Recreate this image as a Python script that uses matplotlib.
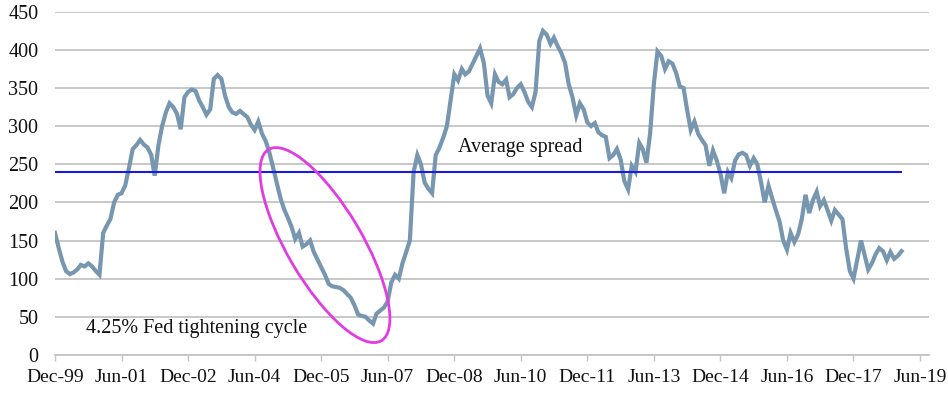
"""
Spread chart with average line and Fed tightening cycle highlight
"""

import matplotlib
matplotlib.use('Agg')
import matplotlib.pyplot as plt
import matplotlib.dates as mdates
from matplotlib.patches import Ellipse
from matplotlib.transforms import ScaledTranslation
import pandas as pd

# monthly spread values, Dec-99 onwards (bp)
spread = [
    160, 140, 122, 110, 106, 108, 112, 118, 116, 120, 116, 110,
    105, 160, 170, 178, 200, 210, 212, 222, 245, 270, 275, 282,
    276, 272, 262, 235, 275, 300, 318, 330, 325, 316, 296, 338,
    345, 348, 346, 334, 325, 315, 322, 362, 367, 362, 340, 325,
    318, 316, 320, 316, 312, 302, 295, 306, 290, 280, 265, 245,
    225, 205, 190, 180, 168, 152, 160, 142, 145, 150, 135, 125,
    115, 105, 93, 90, 89, 88, 85, 80, 75, 65, 53, 51,
    50, 45, 41, 54, 58, 62, 70, 95, 105, 100, 120, 135,
    150, 240, 262, 250, 226, 218, 212, 262, 272, 285, 300, 335,
    368, 360, 375, 368, 372, 382, 392, 402, 383, 340, 330, 368,
    358, 355, 361, 338, 342, 350, 355, 345, 332, 325, 345, 412,
    425, 420, 408, 416, 405, 396, 383, 355, 338, 314, 330, 322,
    305, 300, 304, 292, 288, 286, 258, 262, 270, 256, 228, 217,
    248, 240, 278, 270, 252, 290, 355, 398, 392, 375, 385, 382,
    370, 352, 350, 322, 295, 306, 290, 282, 275, 248, 268, 255,
    238, 212, 240, 232, 255, 263, 265, 262, 248, 258, 250, 226,
    200, 222, 205, 190, 175, 150, 138, 160, 148, 158, 178, 210,
    186, 203, 214, 195, 203, 190, 176, 190, 184, 178, 140, 110,
    100, 125, 150, 132, 112, 120, 132, 140, 136, 124, 135, 126,
    130, 136,
]
avg_spread = 240
tick_dates = pd.date_range('1999-12-01', '2019-06-01', freq='18MS')
tick_labels = [d.strftime('%b-%y') for d in tick_dates]
y_ticks = [0, 50, 100, 150, 200, 250, 300, 350, 400, 450]

dates = pd.date_range('1999-12-01', periods=len(spread), freq='MS')

plt.rcParams['font.family'] = ['Liberation Serif', 'DejaVu Serif']

fig = plt.figure(figsize=(9.48, 3.93), dpi=100)
ax = fig.add_axes([0.058, 0.097, 0.922, 0.873])

ax.plot(dates, spread, color='#7796B0', linewidth=3, solid_joinstyle='miter', zorder=3)
ax.hlines(avg_spread, dates[0], dates[-1], color='#1A1AE6', linewidth=1.5, zorder=4)

# highlight ellipse, sized in inches and centred on a data point
centre = ScaledTranslation(mdates.date2num(pd.Timestamp('2006-01-01')), 144, ax.transData)
ell = Ellipse((0, 0), width=2.22, height=0.75, angle=-59.5,
              transform=fig.dpi_scale_trans + centre,
              fill=False, edgecolor='#E33BE3', linewidth=2, zorder=5)
ax.add_patch(ell)

ax.text(pd.Timestamp('2009-01-01'), 272, 'Average spread', fontsize=14.5,
        va='center', ha='left', color='#111111')
ax.text(pd.Timestamp('2000-08-15'), 35, '4.25% Fed tightening cycle', fontsize=14.5,
        va='center', ha='left', color='#111111')

ax.set_ylim(0, 450)
ax.set_xlim(pd.Timestamp('1999-12-01'), pd.Timestamp('2019-08-15'))
ax.set_yticks(y_ticks)
ax.set_xticks(tick_dates)
ax.set_xticklabels(tick_labels)

ax.grid(True, axis='y', color='#C4C4C4', linewidth=1.3)
ax.set_axisbelow(True)
for side in ['top', 'right', 'left']:
    ax.spines[side].set_visible(False)
ax.spines['bottom'].set_color('#C4C4C4')
ax.spines['bottom'].set_linewidth(1.3)

ax.tick_params(axis='y', length=0, pad=12, labelsize=14.5, labelcolor='#111111')
ax.tick_params(axis='x', length=4, width=1, color='#C4C4C4', pad=6,
               labelsize=14, labelcolor='#111111')

plt.savefig('out.png', dpi=100)
plt.close()
